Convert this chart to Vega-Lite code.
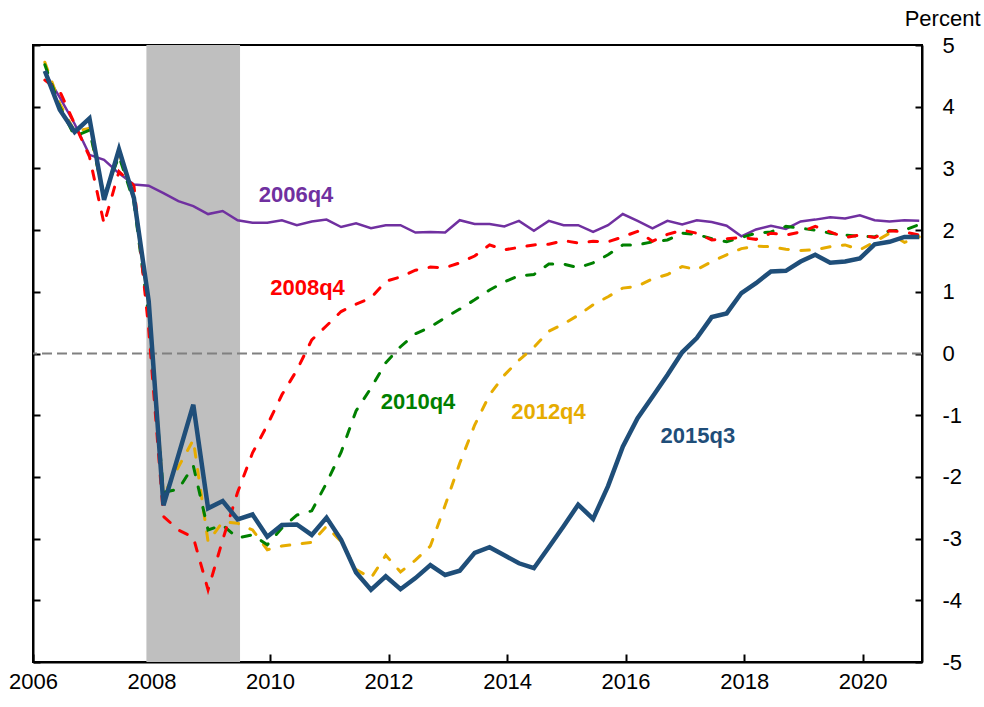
{
  "$schema": "https://vega.github.io/schema/vega-lite/v6.json",
  "width": 889,
  "height": 617,
  "autosize": {"type": "none"},
  "padding": {"left": 33, "top": 45, "right": 62, "bottom": 45},
  "background": "white",
  "config": {
    "view": {"stroke": "#000000", "strokeWidth": 2},
    "font": "Liberation Sans",
    "axis": {
      "domainColor": "#000000", "domainWidth": 2, "tickColor": "#000000", "tickWidth": 2,
      "grid": false, "labelFont": "Liberation Sans", "labelFontSize": 22, "labelColor": "#000000",
      "labelFlush": false, "labelOverlap": false
    }
  },
  "resolve": {"axis": {"y": "independent"}},
  "datasets": {
    "q2006q4": [
      {"d":"2006-03-15","v":4.55},{"d":"2006-06-15","v":4.15},{"d":"2006-09-15","v":3.72},{"d":"2006-12-15","v":3.22},
      {"d":"2007-03-15","v":3.14},{"d":"2007-06-15","v":2.92},{"d":"2007-09-15","v":2.74},{"d":"2007-12-15","v":2.72},
      {"d":"2008-03-15","v":2.60},{"d":"2008-06-15","v":2.47},{"d":"2008-09-15","v":2.39},{"d":"2008-12-15","v":2.26},
      {"d":"2009-03-15","v":2.31},{"d":"2009-06-15","v":2.16},{"d":"2009-09-15","v":2.12},{"d":"2009-12-15","v":2.12},
      {"d":"2010-03-15","v":2.16},{"d":"2010-06-15","v":2.08},{"d":"2010-09-15","v":2.14},{"d":"2010-12-15","v":2.17},
      {"d":"2011-03-15","v":2.05},{"d":"2011-06-15","v":2.11},{"d":"2011-09-15","v":2.03},{"d":"2011-12-15","v":2.08},
      {"d":"2012-03-15","v":2.08},{"d":"2012-06-15","v":1.96},{"d":"2012-09-15","v":1.97},{"d":"2012-12-15","v":1.96},
      {"d":"2013-03-15","v":2.16},{"d":"2013-06-15","v":2.10},{"d":"2013-09-15","v":2.10},{"d":"2013-12-15","v":2.06},
      {"d":"2014-03-15","v":2.15},{"d":"2014-06-15","v":1.99},{"d":"2014-09-15","v":2.15},{"d":"2014-12-15","v":2.08},
      {"d":"2015-03-15","v":2.08},{"d":"2015-06-15","v":1.97},{"d":"2015-09-15","v":2.08},{"d":"2015-12-15","v":2.26},
      {"d":"2016-03-15","v":2.15},{"d":"2016-06-15","v":2.03},{"d":"2016-09-15","v":2.15},{"d":"2016-12-15","v":2.09},
      {"d":"2017-03-15","v":2.16},{"d":"2017-06-15","v":2.13},{"d":"2017-09-15","v":2.07},{"d":"2017-12-15","v":1.90},
      {"d":"2018-03-15","v":2.01},{"d":"2018-06-15","v":2.07},{"d":"2018-09-15","v":2.02},{"d":"2018-12-15","v":2.14},
      {"d":"2019-03-15","v":2.17},{"d":"2019-06-15","v":2.21},{"d":"2019-09-15","v":2.19},{"d":"2019-12-15","v":2.24},
      {"d":"2020-03-15","v":2.16},{"d":"2020-06-15","v":2.14},{"d":"2020-09-15","v":2.16},{"d":"2020-12-15","v":2.15}
    ],
    "q2008q4": [
      {"d":"2006-03-15","v":4.43},{"d":"2006-06-15","v":4.25},{"d":"2006-09-15","v":3.72},{"d":"2006-12-15","v":3.19},
      {"d":"2007-03-15","v":2.10},{"d":"2007-06-15","v":2.95},{"d":"2007-09-15","v":2.72},{"d":"2007-12-15","v":0.40},
      {"d":"2008-03-15","v":-2.64},{"d":"2008-06-15","v":-2.86},{"d":"2008-09-15","v":-2.98},{"d":"2008-12-15","v":-3.83},
      {"d":"2009-03-15","v":-3.02},{"d":"2009-06-15","v":-2.25},{"d":"2009-09-15","v":-1.61},{"d":"2009-12-15","v":-1.16},
      {"d":"2010-03-15","v":-0.67},{"d":"2010-06-15","v":-0.27},{"d":"2010-09-15","v":0.22},{"d":"2010-12-15","v":0.45},
      {"d":"2011-03-15","v":0.68},{"d":"2011-06-15","v":0.80},{"d":"2011-09-15","v":0.90},{"d":"2011-12-15","v":1.17},
      {"d":"2012-03-15","v":1.24},{"d":"2012-06-15","v":1.35},{"d":"2012-09-15","v":1.40},{"d":"2012-12-15","v":1.39},
      {"d":"2013-03-15","v":1.47},{"d":"2013-06-15","v":1.58},{"d":"2013-09-15","v":1.76},{"d":"2013-12-15","v":1.68},
      {"d":"2014-03-15","v":1.72},{"d":"2014-06-15","v":1.76},{"d":"2014-09-15","v":1.77},{"d":"2014-12-15","v":1.83},
      {"d":"2015-03-15","v":1.79},{"d":"2015-06-15","v":1.82},{"d":"2015-09-15","v":1.81},{"d":"2015-12-15","v":1.89},
      {"d":"2016-03-15","v":1.98},{"d":"2016-06-15","v":1.82},{"d":"2016-09-15","v":1.93},{"d":"2016-12-15","v":2.00},
      {"d":"2017-03-15","v":1.95},{"d":"2017-06-15","v":1.84},{"d":"2017-09-15","v":1.86},{"d":"2017-12-15","v":1.88},
      {"d":"2018-03-15","v":1.85},{"d":"2018-06-15","v":1.95},{"d":"2018-09-15","v":1.92},{"d":"2018-12-15","v":1.97},
      {"d":"2019-03-15","v":2.06},{"d":"2019-06-15","v":1.97},{"d":"2019-09-15","v":1.88},{"d":"2019-12-15","v":1.92},
      {"d":"2020-03-15","v":1.88},{"d":"2020-06-15","v":1.99},{"d":"2020-09-15","v":1.97},{"d":"2020-12-15","v":1.92}
    ],
    "q2010q4": [
      {"d":"2006-03-15","v":4.68},{"d":"2006-06-15","v":4.00},{"d":"2006-09-15","v":3.52},{"d":"2006-12-15","v":3.62},
      {"d":"2007-03-15","v":2.55},{"d":"2007-06-15","v":3.20},{"d":"2007-09-15","v":2.45},{"d":"2007-12-15","v":0.60},
      {"d":"2008-03-15","v":-2.25},{"d":"2008-06-15","v":-2.20},{"d":"2008-09-15","v":-1.82},{"d":"2008-12-15","v":-2.86},
      {"d":"2009-03-15","v":-2.78},{"d":"2009-06-15","v":-2.99},{"d":"2009-09-15","v":-2.94},{"d":"2009-12-15","v":-3.10},
      {"d":"2010-03-15","v":-2.83},{"d":"2010-06-15","v":-2.62},{"d":"2010-09-15","v":-2.55},{"d":"2010-12-15","v":-2.10},
      {"d":"2011-03-15","v":-1.60},{"d":"2011-06-15","v":-0.93},{"d":"2011-09-15","v":-0.56},{"d":"2011-12-15","v":-0.15},
      {"d":"2012-03-15","v":0.11},{"d":"2012-06-15","v":0.32},{"d":"2012-09-15","v":0.43},{"d":"2012-12-15","v":0.58},
      {"d":"2013-03-15","v":0.72},{"d":"2013-06-15","v":0.87},{"d":"2013-09-15","v":1.03},{"d":"2013-12-15","v":1.16},
      {"d":"2014-03-15","v":1.26},{"d":"2014-06-15","v":1.28},{"d":"2014-09-15","v":1.45},{"d":"2014-12-15","v":1.45},
      {"d":"2015-03-15","v":1.39},{"d":"2015-06-15","v":1.47},{"d":"2015-09-15","v":1.60},{"d":"2015-12-15","v":1.76},
      {"d":"2016-03-15","v":1.76},{"d":"2016-06-15","v":1.81},{"d":"2016-09-15","v":1.84},{"d":"2016-12-15","v":1.95},
      {"d":"2017-03-15","v":1.93},{"d":"2017-06-15","v":1.86},{"d":"2017-09-15","v":1.81},{"d":"2017-12-15","v":1.88},
      {"d":"2018-03-15","v":1.95},{"d":"2018-06-15","v":1.97},{"d":"2018-09-15","v":2.06},{"d":"2018-12-15","v":2.03},
      {"d":"2019-03-15","v":2.00},{"d":"2019-06-15","v":1.95},{"d":"2019-09-15","v":1.92},{"d":"2019-12-15","v":1.90},
      {"d":"2020-03-15","v":1.89},{"d":"2020-06-15","v":1.99},{"d":"2020-09-15","v":2.00},{"d":"2020-12-15","v":2.09}
    ],
    "q2012q4": [
      {"d":"2006-03-15","v":4.72},{"d":"2006-06-15","v":4.05},{"d":"2006-09-15","v":3.60},{"d":"2006-12-15","v":3.65},
      {"d":"2007-03-15","v":2.50},{"d":"2007-06-15","v":3.25},{"d":"2007-09-15","v":2.50},{"d":"2007-12-15","v":0.80},
      {"d":"2008-03-15","v":-2.30},{"d":"2008-06-15","v":-1.84},{"d":"2008-09-15","v":-1.40},{"d":"2008-12-15","v":-3.05},
      {"d":"2009-03-15","v":-2.73},{"d":"2009-06-15","v":-2.75},{"d":"2009-09-15","v":-2.86},{"d":"2009-12-15","v":-3.18},
      {"d":"2010-03-15","v":-3.12},{"d":"2010-06-15","v":-3.09},{"d":"2010-09-15","v":-3.06},{"d":"2010-12-15","v":-2.80},
      {"d":"2011-03-15","v":-3.05},{"d":"2011-06-15","v":-3.50},{"d":"2011-09-15","v":-3.64},{"d":"2011-12-15","v":-3.27},
      {"d":"2012-03-15","v":-3.54},{"d":"2012-06-15","v":-3.35},{"d":"2012-09-15","v":-3.12},{"d":"2012-12-15","v":-2.46},
      {"d":"2013-03-15","v":-1.78},{"d":"2013-06-15","v":-1.16},{"d":"2013-09-15","v":-0.67},{"d":"2013-12-15","v":-0.35},
      {"d":"2014-03-15","v":-0.11},{"d":"2014-06-15","v":0.10},{"d":"2014-09-15","v":0.36},{"d":"2014-12-15","v":0.48},
      {"d":"2015-03-15","v":0.62},{"d":"2015-06-15","v":0.79},{"d":"2015-09-15","v":0.92},{"d":"2015-12-15","v":1.06},
      {"d":"2016-03-15","v":1.09},{"d":"2016-06-15","v":1.21},{"d":"2016-09-15","v":1.28},{"d":"2016-12-15","v":1.41},
      {"d":"2017-03-15","v":1.36},{"d":"2017-06-15","v":1.49},{"d":"2017-09-15","v":1.60},{"d":"2017-12-15","v":1.70},
      {"d":"2018-03-15","v":1.74},{"d":"2018-06-15","v":1.73},{"d":"2018-09-15","v":1.69},{"d":"2018-12-15","v":1.67},
      {"d":"2019-03-15","v":1.68},{"d":"2019-06-15","v":1.73},{"d":"2019-09-15","v":1.76},{"d":"2019-12-15","v":1.68},
      {"d":"2020-03-15","v":1.81},{"d":"2020-06-15","v":1.95},{"d":"2020-09-15","v":1.80},{"d":"2020-12-15","v":1.89}
    ],
    "q2015q3": [
      {"d":"2006-03-15","v":4.58},{"d":"2006-06-15","v":3.95},{"d":"2006-09-15","v":3.59},{"d":"2006-12-15","v":3.81},
      {"d":"2007-03-15","v":2.49},{"d":"2007-06-15","v":3.31},{"d":"2007-09-15","v":2.52},{"d":"2007-12-15","v":0.85},
      {"d":"2008-03-15","v":-2.46},{"d":"2008-06-15","v":-1.65},{"d":"2008-09-15","v":-0.83},{"d":"2008-12-15","v":-2.51},
      {"d":"2009-03-15","v":-2.39},{"d":"2009-06-15","v":-2.69},{"d":"2009-09-15","v":-2.61},{"d":"2009-12-15","v":-2.97},
      {"d":"2010-03-15","v":-2.78},{"d":"2010-06-15","v":-2.77},{"d":"2010-09-15","v":-2.94},{"d":"2010-12-15","v":-2.66},
      {"d":"2011-03-15","v":-3.02},{"d":"2011-06-15","v":-3.55},{"d":"2011-09-15","v":-3.83},{"d":"2011-12-15","v":-3.61},
      {"d":"2012-03-15","v":-3.82},{"d":"2012-06-15","v":-3.64},{"d":"2012-09-15","v":-3.43},{"d":"2012-12-15","v":-3.59},
      {"d":"2013-03-15","v":-3.52},{"d":"2013-06-15","v":-3.23},{"d":"2013-09-15","v":-3.14},{"d":"2013-12-15","v":-3.27},
      {"d":"2014-03-15","v":-3.40},{"d":"2014-06-15","v":-3.48},{"d":"2014-09-15","v":-3.14},{"d":"2014-12-15","v":-2.80},
      {"d":"2015-03-15","v":-2.45},{"d":"2015-06-15","v":-2.68},{"d":"2015-09-15","v":-2.15},{"d":"2015-12-15","v":-1.51},
      {"d":"2016-03-15","v":-1.05},{"d":"2016-06-15","v":-0.70},{"d":"2016-09-15","v":-0.35},{"d":"2016-12-15","v":0.02},
      {"d":"2017-03-15","v":0.25},{"d":"2017-06-15","v":0.59},{"d":"2017-09-15","v":0.65},{"d":"2017-12-15","v":0.98},
      {"d":"2018-03-15","v":1.14},{"d":"2018-06-15","v":1.33},{"d":"2018-09-15","v":1.34},{"d":"2018-12-15","v":1.49},
      {"d":"2019-03-15","v":1.60},{"d":"2019-06-15","v":1.47},{"d":"2019-09-15","v":1.49},{"d":"2019-12-15","v":1.54},
      {"d":"2020-03-15","v":1.77},{"d":"2020-06-15","v":1.81},{"d":"2020-09-15","v":1.89},{"d":"2020-12-15","v":1.89}
    ],
    "labels": [
      {"d":"2010-06-10","v":2.57,"label":"2006q4"},
      {"d":"2010-08-20","v":1.06,"label":"2008q4"},
      {"d":"2012-07-01","v":-0.78,"label":"2010q4"},
      {"d":"2014-09-13","v":-0.95,"label":"2012q4"},
      {"d":"2017-03-22","v":-1.34,"label":"2015q3"}
    ],
    "recession": [{"start":"2007-12-01","end":"2009-06-30"}],
    "zero": [{"level":0}]
  },
  "layer": [
    {
      "data": {"name": "recession"},
      "mark": {"type": "rect", "color": "#BFBFBF"},
      "encoding": {
        "x": {
          "field": "start", "type": "temporal", "title": null,
          "scale": {"type": "utc", "domain": [{"year":2006,"month":1,"date":1,"utc":true},{"year":2021,"month":1,"date":1,"utc":true}]},
          "axis": {
            "orient": "bottom", "title": null, "format": "%Y", "tickSize": -8, "labelPadding": 17,
            "values": [{"year":2006,"month":1,"date":1,"utc":true},{"year":2008,"month":1,"date":1,"utc":true},{"year":2010,"month":1,"date":1,"utc":true},{"year":2012,"month":1,"date":1,"utc":true},{"year":2014,"month":1,"date":1,"utc":true},{"year":2016,"month":1,"date":1,"utc":true},{"year":2018,"month":1,"date":1,"utc":true},{"year":2020,"month":1,"date":1,"utc":true}]
          }
        },
        "x2": {"field": "end"}
      }
    },
    {
      "data": {"name": "zero"},
      "mark": {"type": "rule", "color": "#808080", "strokeWidth": 2, "strokeDash": [10, 5]},
      "encoding": {
        "y": {
          "field": "level", "type": "quantitative", "title": null,
          "scale": {"domain": [-5, 5], "nice": false, "zero": false},
          "axis": {"orient": "left", "labels": false, "tickSize": -7, "values": [-5,-4,-3,-2,-1,0,1,2,3,4,5], "title": null}
        }
      }
    },
    {
      "data": {"name": "q2006q4"},
      "mark": {"type": "line", "color": "#7030A0", "strokeWidth": 2.5},
      "encoding": {
        "x": {"field": "d", "type": "temporal", "title": null},
        "y": {"field": "v", "type": "quantitative", "axis": null}
      }
    },
    {
      "data": {"name": "q2012q4"},
      "mark": {"type": "line", "color": "#E6AC00", "strokeWidth": 3, "strokeDash": [8.5, 12.5], "strokeCap": "round"},
      "encoding": {
        "x": {"field": "d", "type": "temporal", "title": null},
        "y": {"field": "v", "type": "quantitative", "axis": null}
      }
    },
    {
      "data": {"name": "q2010q4"},
      "mark": {"type": "line", "color": "#008000", "strokeWidth": 3, "strokeDash": [8.5, 12.5], "strokeCap": "round"},
      "encoding": {
        "x": {"field": "d", "type": "temporal", "title": null},
        "y": {"field": "v", "type": "quantitative", "axis": null}
      }
    },
    {
      "data": {"name": "q2008q4"},
      "mark": {"type": "line", "color": "#FF0000", "strokeWidth": 3, "strokeDash": [8.5, 12.5], "strokeCap": "round"},
      "encoding": {
        "x": {"field": "d", "type": "temporal", "title": null},
        "y": {"field": "v", "type": "quantitative", "axis": null}
      }
    },
    {
      "data": {"name": "q2015q3"},
      "mark": {"type": "line", "color": "#1F4E79", "strokeWidth": 4.5},
      "encoding": {
        "x": {"field": "d", "type": "temporal", "title": null},
        "y": {
          "field": "v", "type": "quantitative",
          "axis": {
            "orient": "right", "tickSize": -7, "labelPadding": 27, "labelAlign": "left", "labelBaseline": "middle",
            "values": [-5,-4,-3,-2,-1,0,1,2,3,4,5], "labelExpr": "'' + datum.value",
            "title": "Percent", "titleAngle": 0, "titleAlign": "right", "titleBaseline": "middle",
            "titleX": 58, "titleY": -27, "titleFont": "Liberation Sans", "titleFontSize": 22,
            "titleFontWeight": "normal", "titleColor": "#000000"
          }
        }
      }
    },
    {
      "data": {"name": "labels"},
      "mark": {"type": "text", "font": "Liberation Sans", "fontSize": 22, "fontWeight": "bold", "align": "center", "baseline": "middle"},
      "encoding": {
        "x": {"field": "d", "type": "temporal", "title": null},
        "y": {"field": "v", "type": "quantitative", "axis": null},
        "text": {"field": "label"},
        "color": {
          "field": "label", "type": "nominal", "legend": null,
          "scale": {"domain": ["2006q4","2008q4","2010q4","2012q4","2015q3"], "range": ["#7030A0","#FF0000","#008000","#E6AC00","#1F4E79"]}
        }
      }
    }
  ]
}
